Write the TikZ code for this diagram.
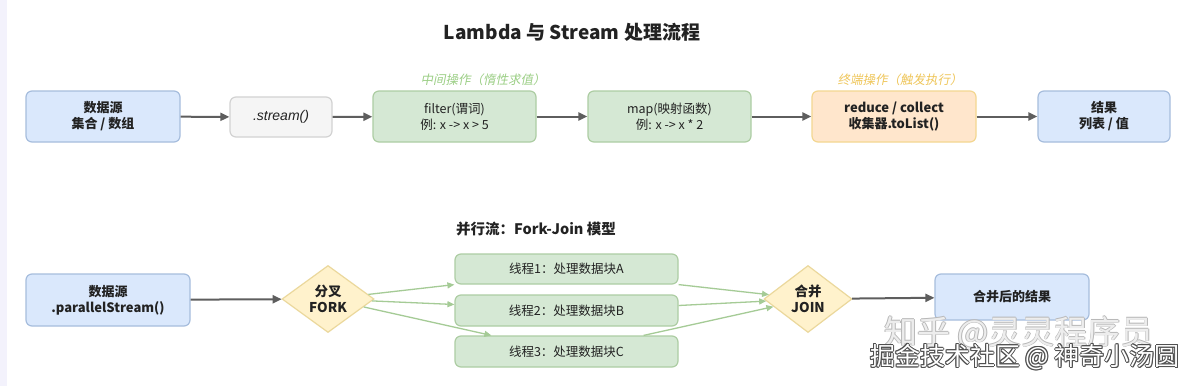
\documentclass[tikz,border=0pt]{standalone}
\usepackage{fontspec}
\setmainfont{Noto Sans CJK SC}
\newfontfamily\cjkslant{Noto Sans CJK SC}[FakeSlant=0.2]
\newfontfamily\lsans{Liberation Sans}
\usetikzlibrary{shapes.geometric,arrows.meta,calc}
\definecolor{bluef}{HTML}{DAE8FC}\definecolor{blued}{HTML}{A6BDDD}
\definecolor{grayf}{HTML}{F5F5F5}\definecolor{grayd}{HTML}{D2D2D2}
\definecolor{greenf}{HTML}{D5E8D4}\definecolor{greend}{HTML}{ADCDA3}
\definecolor{orangef}{HTML}{FFE6CC}\definecolor{oranged}{HTML}{F3D791}
\definecolor{diaf}{HTML}{FFF2CC}\definecolor{diad}{HTML}{EBD89C}
\definecolor{arrowc}{HTML}{5E5E5E}\definecolor{farrow}{HTML}{A5CB96}
\definecolor{txt}{HTML}{222222}
\definecolor{glabel}{HTML}{9CCF86}\definecolor{olabel}{HTML}{EFC65A}
\definecolor{strip}{HTML}{F3F2FC}
\definecolor{wmA}{HTML}{B8B8B8}\definecolor{wmB}{HTML}{EDEDED}\definecolor{wmC}{HTML}{505050}
\tikzset{
  box/.style={draw, rounded corners=6pt, line width=1.2pt, align=center, inner sep=0pt,
    font=\fontsize{13}{16}\selectfont\bfseries, text=txt},
  bluebox/.style={box, fill=bluef, draw=blued},
  graybox/.style={box, fill=grayf, draw=grayd},
  greenbox/.style={box, fill=greenf, draw=greend},
  orangebox/.style={box, fill=orangef, draw=oranged},
  threadbox/.style={box, fill=greenf, draw=greend, font=\fontsize{12.5}{15}\selectfont},
  dia/.style={diamond, draw=diad, fill=diaf, line width=1.2pt, inner sep=0pt, align=center,
    font=\fontsize{13.5}{16}\selectfont\bfseries, text=txt},
  mainarrow/.style={draw=arrowc, line width=2pt, -{Triangle[length=9pt,width=8pt]}},
  forkarrow/.style={draw=farrow, line width=1.3pt, -{Triangle[length=7pt,width=6pt]}},
}
\begin{document}
\begin{tikzpicture}[x=1pt,y=-1pt]
\useasboundingbox (0,0) rectangle (1194,386);
\fill[white] (0,0) rectangle (1194,386);
\fill[strip] (0,0) rectangle (7,386);

\node[font=\fontsize{19}{22}\selectfont\bfseries, text=txt] (title) at (572,32) {Lambda 与 Stream 处理流程};

% row 1
\node[bluebox, minimum width=154pt, minimum height=51pt] (src) at (103,116.5) {数据源\\集合 / 数组};
\node[graybox, minimum width=102pt, minimum height=40pt, font=\fontsize{14}{16}\selectfont\lsans\itshape] (strm) at (281,117) {.stream()};
\node[greenbox, minimum width=163pt, minimum height=51pt, font=\fontsize{12.5}{16}\selectfont] (filt) at (454.5,116.5) {filter(谓词)\\例: x -> x > 5};
\node[greenbox, minimum width=163pt, minimum height=51pt, font=\fontsize{12.5}{16}\selectfont] (mapn) at (669.5,116.5) {map(映射函数)\\例: x -> x * 2};
\node[orangebox, minimum width=164pt, minimum height=51pt] (red) at (894,116.5) {reduce / collect\\收集器.toList()};
\node[bluebox, minimum width=132pt, minimum height=51pt] (res) at (1104,116.5) {结果\\列表 / 值};

\node[font=\fontsize{12.5}{15}\selectfont\cjkslant, text=glabel] (lab1) at (483,80) {中间操作（惰性求值）};
\node[font=\fontsize{12.5}{15}\selectfont\cjkslant, text=olabel] (lab2) at (900,80) {终端操作（触发执行）};

\draw[mainarrow] (src) -- (strm);
\draw[mainarrow] (strm) -- (filt);
\draw[mainarrow] (filt) -- (mapn);
\draw[mainarrow] (mapn) -- (red);
\draw[mainarrow] (red) -- (res);

% row 2
\node[font=\fontsize{14.5}{17}\selectfont\bfseries, text=txt] (sub) at (536,229) {并行流：Fork-Join 模型};

\node[bluebox, minimum width=164pt, minimum height=52pt, font=\fontsize{13}{16}\selectfont\bfseries] (psrc) at (108,300) {数据源\\.parallelStream()};
\node[dia, minimum width=92pt, minimum height=67pt] (fork) at (328,299) {分叉\\FORK};
\node[threadbox, minimum width=223pt, minimum height=30pt] (t1) at (566.5,269) {线程1：处理数据块A};
\node[threadbox, minimum width=223pt, minimum height=31pt] (t2) at (566.5,310.5) {线程2：处理数据块B};
\node[threadbox, minimum width=223pt, minimum height=31pt] (t3) at (566.5,351.5) {线程3：处理数据块C};
\node[dia, minimum width=88pt, minimum height=67pt] (join) at (808,299) {合并\\JOIN};
\node[bluebox, minimum width=154pt, minimum height=46pt, font=\fontsize{13}{16}\selectfont\bfseries] (mres) at (1012,297) {合并后的结果};

\coordinate (t2in) at ($(t2.west)+(0,-6)$);
\coordinate (t3in) at ($(t3.north west)+(37,0)$);
\coordinate (t2out) at ($(t2.east)+(0,-5)$);
\coordinate (t3out) at ($(t3.north east)+(-35,0)$);

\draw[mainarrow] (psrc) -- (fork);
\draw[forkarrow] (fork) -- (t1.south west);
\draw[forkarrow] (fork) -- (t2in);
\draw[forkarrow] (fork) -- (t3in);
\draw[forkarrow] (t1.south east) -- (join);
\draw[forkarrow] (t2out) -- (join);
\draw[forkarrow] (t3out) -- (join);
\draw[mainarrow] (join) -- (mres);

% watermarks
\foreach \dx/\dy in {-0.8/0,0.8/0,0/-0.8,0/0.8}
  \node[font=\fontsize{33}{36}\selectfont, text=wmA] at ($(1019,333)+(\dx,\dy)$) {知乎 @灵灵程序员};
\node[font=\fontsize{33}{36}\selectfont, text=wmB] (wm1) at (1019,333) {知乎 @灵灵程序员};
\foreach \dx/\dy in {-1/0,1/0,0/-1,0/1,-0.7/-0.7,0.7/0.7,-0.7/0.7,0.7/-0.7}
  \node[font=\fontsize{25}{28}\selectfont, text=wmC] at ($(1025,357)+(\dx,\dy)$) {掘金技术社区 @ 神奇小汤圆};
\node[font=\fontsize{25}{28}\selectfont, text=white] (wm2) at (1025,357) {掘金技术社区 @ 神奇小汤圆};
\end{tikzpicture}
\end{document}
